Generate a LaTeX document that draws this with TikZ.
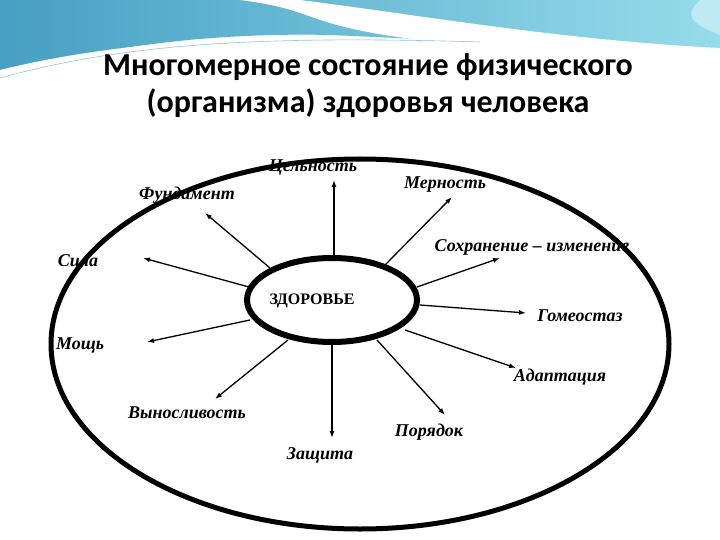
\documentclass[tikz,border=0pt]{standalone}
\usepackage{fontspec}
\usetikzlibrary{arrows.meta,shapes.geometric}
\setmainfont{Liberation Serif}
\newfontfamily\titlefont{Carlito}
\definecolor{waveL}{RGB}{70,160,195}
\definecolor{waveR}{RGB}{150,220,235}
\begin{document}
\begin{tikzpicture}[x=1pt,y=-1pt,
  lab/.style={font=\fontsize{18}{20}\selectfont\bfseries\itshape, inner sep=1pt},
  ray/.style={-{Latex[length=7pt,width=5pt]}, line width=1.3pt}]
\useasboundingbox (0,0) rectangle (720,540);
\fill[white] (0,0) rectangle (720,540);
% top decoration
\shade[left color=waveL, right color=waveR]
  (0,0) -- (720,0) -- (720,55) .. controls (600,50) and (450,40) .. (330,35) .. controls (200,32) and (80,50) .. (0,78) -- cycle;
\fill[white] (300,0) .. controls (420,15) and (560,40) .. (720,48) -- (720,58)
   .. controls (560,55) and (430,40) .. (330,38) .. controls (200,36) and (80,55) .. (0,80) -- (0,70)
   .. controls (100,45) and (250,30) .. (420,40) .. controls (300,25) and (320,10) .. (240,0) -- cycle;
\fill[waveR!60!white] (700,0) -- (720,0) -- (720,35) .. controls (680,20) and (690,10) .. (700,0) -- cycle;
\draw[waveL!60, line width=0.6pt] (0,78) .. controls (120,45) and (250,35) .. (480,42);
% title
\node[font=\titlefont\bfseries\fontsize{32}{37}\selectfont, align=center] (title) at (368,86)
  {Многомерное состояние физического\\(организма) здоровья человека};
% ellipses
\draw[line width=5pt] (360,344) ellipse [x radius=309, y radius=185];
\node[draw, ellipse, line width=6pt, minimum width=170pt, minimum height=84pt, fill=white] (c) at (332,300) {};
\node[font=\fontsize{16}{18}\selectfont\bfseries] (zl) at (312,301) {ЗДОРОВЬЕ};
% tips
\coordinate (t1) at (334,180);
\coordinate (t2) at (452,197);
\coordinate (t3) at (205,213);
\coordinate (t4) at (143,258);
\coordinate (t5) at (500,258);
\coordinate (t6) at (526,313);
\coordinate (t7) at (147,342);
\coordinate (t8) at (215,399);
\coordinate (t9) at (332,438);
\coordinate (t10) at (445,415);
\coordinate (t11) at (516,368);
\draw[ray] (334,260) -- (t1);
\draw[ray] (385,265) -- (t2);
\draw[ray] (270,268) -- (t3);
\draw[ray] (249,287) -- (t4);
\draw[ray] (417,287) -- (t5);
\draw[ray] (420,305) -- (t6);
\draw[ray] (250,320) -- (t7);
\draw[ray] (288,340) -- (t8);
\draw[ray] (332,344) -- (t9);
\draw[ray] (377,340) -- (t10);
\draw[ray] (405,330) -- (t11);
% labels
\node[lab] (l1) at (313,168) {Цельность};
\node[lab] (l2) at (445,185) {Мерность};
\node[lab] (l3) at (187,195) {Фундамент};
\node[lab] (l4) at (78,261) {Сила};
\node[lab] (l5) at (532,247) {Сохранение – изменение};
\node[lab] (l6) at (580,316) {Гомеостаз};
\node[lab] (l7) at (80,345) {Мощь};
\node[lab] (l8) at (187,413) {Выносливость};
\node[lab] (l9) at (320,455) {Защита};
\node[lab] (l10) at (429,432) {Порядок};
\node[lab] (l11) at (560,377) {Адаптация};
\end{tikzpicture}
\end{document}
